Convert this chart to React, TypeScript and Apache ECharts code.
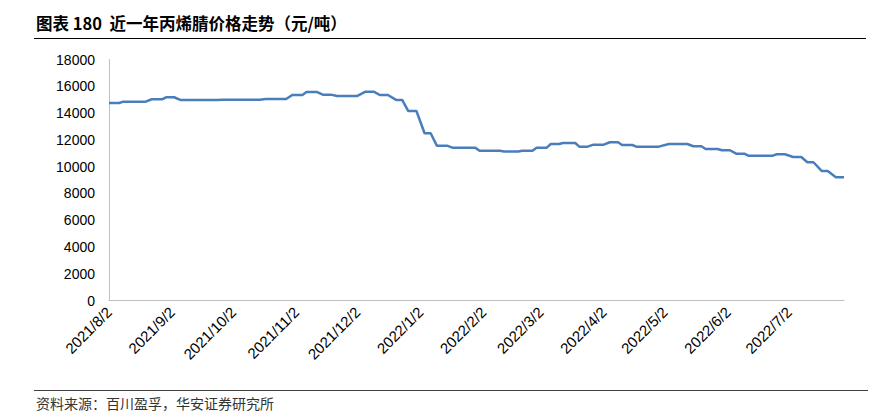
import React, { useEffect, useRef } from "react";
import * as echarts from "echarts";

const titleText = "图表 180  近一年丙烯腈价格走势（元/吨）";
const sourceText = "资料来源：百川盈孚，华安证券研究所";

const tickLabels = [
  "2021/8/2", "2021/9/2", "2021/10/2", "2021/11/2", "2021/12/2", "2022/1/2",
  "2022/2/2", "2022/3/2", "2022/4/2", "2022/5/2", "2022/6/2", "2022/7/2",
];

const yTicks = [0, 2000, 4000, 6000, 8000, 10000, 12000, 14000, 16000, 18000];

const dates = [
  "2021-08-02", "2021-08-07", "2021-08-09", "2021-08-20", "2021-08-23", "2021-08-28",
  "2021-08-30", "2021-09-03", "2021-09-06", "2021-09-24", "2021-09-27", "2021-10-15",
  "2021-10-18", "2021-10-28", "2021-10-31", "2021-11-05", "2021-11-07", "2021-11-12",
  "2021-11-15", "2021-11-19", "2021-11-22", "2021-12-02", "2021-12-06", "2021-12-10",
  "2021-12-13", "2021-12-17", "2021-12-21", "2021-12-24", "2021-12-27", "2021-12-31",
  "2022-01-04", "2022-01-07", "2022-01-10", "2022-01-15", "2022-01-18", "2022-01-29",
  "2022-01-31", "2022-02-10", "2022-02-12", "2022-02-19", "2022-02-21", "2022-02-26",
  "2022-02-28", "2022-03-05", "2022-03-07", "2022-03-11", "2022-03-13", "2022-03-19",
  "2022-03-21", "2022-03-25", "2022-03-28", "2022-04-02", "2022-04-05", "2022-04-09",
  "2022-04-11", "2022-04-16", "2022-04-18", "2022-04-29", "2022-05-04", "2022-05-13",
  "2022-05-16", "2022-05-20", "2022-05-22", "2022-05-28", "2022-05-30", "2022-06-03",
  "2022-06-06", "2022-06-10", "2022-06-12", "2022-06-24", "2022-06-26", "2022-06-30",
  "2022-07-04", "2022-07-08", "2022-07-11", "2022-07-14", "2022-07-18", "2022-07-21",
  "2022-07-25", "2022-07-29",
];

const prices = [
  14750, 14750, 14850, 14850, 15030, 15030,
  15180, 15180, 14980, 14980, 15000, 15000,
  15050, 15050, 15350, 15350, 15575, 15575,
  15375, 15375, 15280, 15280, 15600, 15600,
  15350, 15350, 14980, 14980, 14150, 14150,
  12490, 12490, 11565, 11565, 11400, 11400,
  11190, 11190, 11130, 11130, 11190, 11190,
  11415, 11415, 11690, 11690, 11765, 11765,
  11490, 11490, 11640, 11640, 11820, 11820,
  11615, 11615, 11490, 11490, 11690, 11690,
  11520, 11520, 11320, 11320, 11220, 11220,
  10965, 10965, 10820, 10820, 10920, 10920,
  10720, 10720, 10325, 10325, 9675, 9675,
  9205, 9205,
];

const xStart = "2021-08-02";
const xEnd = "2022-07-29";

function toTs(s: string): number {
  const [y, m, d] = s.split(/[-/]/).map(Number);
  return new Date(y, m - 1, d).getTime();
}

function fmt(v: number): string {
  const d = new Date(v);
  return `${d.getFullYear()}/${d.getMonth() + 1}/${d.getDate()}`;
}

export default function App() {
  const ref = useRef<HTMLDivElement>(null);

  useEffect(() => {
    if (!ref.current) return;
    const chart = echarts.init(ref.current, null, { renderer: "svg" });
    const seriesData = dates.map((d, i) => [toTs(d), prices[i]]);
    chart.setOption({
      animation: false,
      backgroundColor: "#ffffff",
      grid: { left: 109, right: 45, top: 59.5, bottom: 116.5, containLabel: false },
      xAxis: {
        type: "value",
        min: toTs(xStart),
        max: toTs(xEnd),
        scale: true,
        axisLine: { show: true, lineStyle: { color: "#bfbfbf", width: 1 } },
        axisTick: { show: false },
        splitLine: { show: false },
        axisLabel: {
          customValues: tickLabels.map(toTs),
          formatter: (v: number) => fmt(v),
          rotate: 45,
          margin: 9,
          fontSize: 15,
          color: "#000000",
          fontFamily: "Liberation Sans",
          hideOverlap: false,
        },
      },
      yAxis: {
        type: "value",
        min: yTicks[0],
        max: yTicks[yTicks.length - 1],
        interval: 2000,
        axisLine: { show: true, lineStyle: { color: "#bfbfbf", width: 1 } },
        axisTick: { show: false },
        splitLine: { show: false },
        axisLabel: {
          formatter: (v: number) => String(v),
          margin: 14,
          fontSize: 14,
          color: "#000000",
          fontFamily: "Liberation Sans",
        },
      },
      series: [
        {
          type: "line",
          data: seriesData,
          showSymbol: false,
          symbol: "none",
          lineStyle: { color: "#4a7ebb", width: 2.5 },
          itemStyle: { color: "#4a7ebb" },
        },
      ],
      graphic: [
        {
          type: "text",
          left: 36,
          top: 15,
          style: {
            text: titleText,
            font: 'bold 16.5px "Noto Sans CJK SC", "Liberation Sans", sans-serif',
            fill: "#000000",
          },
        },
        {
          type: "line",
          shape: { x1: 34, y1: 38.5, x2: 866, y2: 38.5 },
          style: { stroke: "#000000", lineWidth: 1 },
        },
        {
          type: "line",
          shape: { x1: 34, y1: 390.5, x2: 868, y2: 390.5 },
          style: { stroke: "#404040", lineWidth: 1.2 },
        },
        {
          type: "text",
          left: 36,
          top: 396,
          style: {
            text: sourceText,
            font: '14px "Noto Sans CJK SC", sans-serif',
            fill: "#333333",
          },
        },
      ],
    });
    return () => chart.dispose();
  }, []);

  return (
    <div
      ref={ref}
      style={{ position: "fixed", left: 0, top: 0, width: 889, height: 417 }}
    />
  );
}
